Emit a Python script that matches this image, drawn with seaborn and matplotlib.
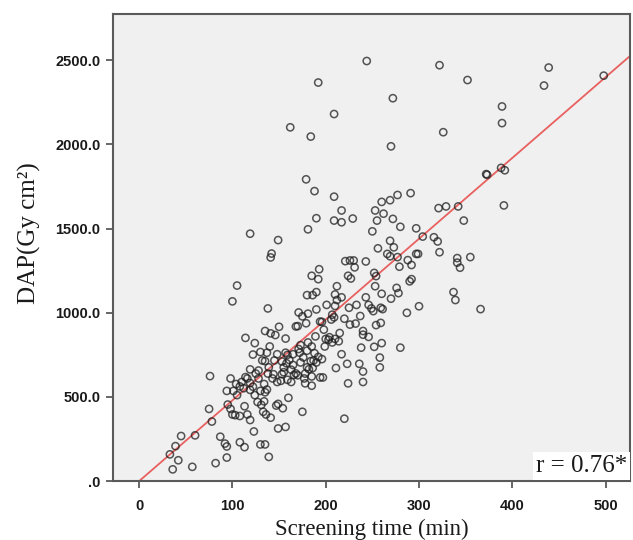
import matplotlib
matplotlib.use("Agg")
import matplotlib.pyplot as plt
import numpy as np
import pandas as pd
import seaborn as sns

# Screening time (min) and dose-area product (Gy cm^2) per procedure
screening_time = [
    244, 322, 439, 192, 352, 434, 498, 272, 209, 389, 389, 162, 326, 184, 270,
    372, 373, 388, 392, 179, 188, 209, 291, 277, 269, 260, 391, 321, 329, 342,
    217, 253, 262, 190, 229, 209, 217, 255, 272, 348, 181, 280, 297, 250, 119,
    304, 316, 320, 149, 269, 256, 273, 142, 141, 322, 297, 299, 266, 269, 277,
    341, 355, 341, 344, 221, 226, 230, 243, 231, 288, 292, 279, 193, 252, 254,
    224, 227, 185, 192, 292, 290, 105, 212, 253, 276, 278, 180, 186, 190, 210,
    217, 243, 260, 337, 100, 212, 339, 270, 138, 190, 201, 210, 225, 233, 246,
    249, 300, 366, 251, 259, 261, 287, 171, 175, 181, 207, 209, 220, 237, 232,
    226, 259, 254, 179, 168, 170, 194, 196, 206, 150, 135, 141, 146, 240, 240,
    246, 114, 157, 204, 200, 210, 214, 181, 173, 185, 124, 140, 207, 238, 260,
    252, 280, 122, 130, 137, 148, 157, 159, 165, 172, 180, 192, 217, 258, 132,
    135, 145, 153, 173, 184, 187, 190, 223, 236, 119, 128, 139, 155, 163, 180,
    186, 211, 258, 76, 98, 114, 125, 138, 144, 153, 155, 166, 170, 178, 185,
    194, 197, 240, 240, 224, 110, 116, 119, 128, 148, 152, 159, 163, 177, 178,
    185, 104, 108, 122, 134, 101, 94, 130, 135, 137, 124, 105, 160, 112, 119,
    127, 134, 131, 95, 113, 149, 147, 154, 75, 98, 100, 103, 116, 119, 133,
    136, 141, 108, 78, 175, 220, 123, 149, 157, 45, 60, 87, 92, 94, 108,
    113, 130, 135, 39, 33, 42, 94, 139, 82, 57, 36,
    165, 176, 188, 199, 203, 215, 168, 182, 196, 158, 171, 189, 143, 161, 198,
]
dap = [
    2496, 2471, 2457, 2368, 2383, 2350, 2409, 2275, 2181, 2226, 2127, 2102, 2073, 2047, 1989,
    1824, 1820, 1861, 1847, 1793, 1723, 1690, 1711, 1700, 1669, 1659, 1638, 1622, 1632, 1632,
    1608, 1608, 1589, 1562, 1560, 1548, 1538, 1548, 1558, 1548, 1496, 1511, 1502, 1484, 1470,
    1453, 1449, 1424, 1432, 1428, 1383, 1389, 1352, 1329, 1360, 1350, 1350, 1350, 1336, 1331,
    1325, 1331, 1298, 1268, 1307, 1311, 1311, 1305, 1270, 1313, 1284, 1274, 1259, 1237, 1218,
    1220, 1204, 1220, 1200, 1200, 1187, 1162, 1158, 1158, 1148, 1117, 1105, 1105, 1123, 1109,
    1092, 1092, 1113, 1123, 1068, 1076, 1076, 1084, 1026, 1020, 1047, 1041, 1030, 1047, 1047,
    1026, 1039, 1022, 1010, 1030, 1022, 1000, 1002, 979, 995, 989, 973, 965, 981, 936,
    930, 940, 927, 938, 919, 921, 948, 946, 960, 917, 892, 878, 868, 892, 870,
    857, 851, 847, 855, 845, 845, 831, 824, 808, 800, 820, 800, 824, 793, 820,
    798, 793, 752, 767, 763, 754, 763, 750, 754, 763, 775, 738, 754, 734, 717,
    713, 717, 711, 705, 713, 717, 705, 697, 697, 664, 657, 676, 676, 662, 676,
    672, 672, 676, 624, 610, 618, 639, 639, 635, 635, 647, 631, 629, 639, 622,
    616, 616, 651, 589, 581, 589, 610, 583, 610, 589, 596, 602, 589, 610, 581,
    567, 577, 563, 561, 577, 536, 536, 536, 528, 544, 511, 511, 495, 552, 542,
    470, 474, 453, 455, 445, 459, 449, 433, 429, 429, 396, 392, 396, 363, 412,
    396, 377, 387, 354, 412, 371, 295, 313, 322, 268, 272, 264, 223, 206, 231,
    202, 218, 218, 208, 159, 124, 140, 144, 107, 85, 70,
    690, 735, 760, 800, 840, 880, 640, 665, 725, 700, 785, 860, 610, 720, 900,
]

# Fitted regression line (DAP = intercept + slope * time)
fit_intercept = 0.0
fit_slope = 4.8
correlation_text = "r = 0.76*"

x_ticks = [0, 100, 200, 300, 400, 500]
y_ticks = [0, 500, 1000, 1500, 2000, 2500]
y_tick_labels = [".0", "500.0", "1000.0", "1500.0", "2000.0", "2500.0"]

df = pd.DataFrame({"time": screening_time, "dap": dap})

sns.set_style("ticks")
plt.rcParams["font.family"] = ["Liberation Sans", "DejaVu Sans"]

fig = plt.figure(figsize=(6.33, 5.40), dpi=100)
ax = fig.add_axes([0.1785, 0.109, 0.8165, 0.865])
ax.set_facecolor("#f0f0f0")

sns.scatterplot(
    data=df, x="time", y="dap", ax=ax,
    marker="o", s=27, facecolors="none", edgecolor="#1e1e1e",
    linewidth=1.1, alpha=0.75, zorder=3,
)

ax.axline((0, fit_intercept), slope=fit_slope, color="#e8605f", lw=1.3, zorder=2)

ax.set_xlim(-28, 526)
ax.set_ylim(0, 2775)
ax.set_xticks(x_ticks)
ax.set_xticklabels([str(v) for v in x_ticks])
ax.set_yticks(y_ticks)
ax.set_yticklabels(y_tick_labels)

for side in ["left", "right", "top", "bottom"]:
    ax.spines[side].set_visible(True)
    ax.spines[side].set_color("#5a5a5a")
    ax.spines[side].set_linewidth(1.5)

ax.tick_params(axis="both", direction="out", length=5, width=1.3, color="#5a5a5a",
               labelsize=10.5, labelcolor="#1a1a1a")
ax.tick_params(axis="x", pad=8)
ax.tick_params(axis="y", pad=4)
for lab in ax.get_xticklabels() + ax.get_yticklabels():
    lab.set_fontweight("bold")

serif = ["Liberation Serif", "DejaVu Serif"]
ax.set_xlabel("Screening time (min)", family=serif, fontsize=16.5, labelpad=4, color="#1a1a1a")
ax.set_ylabel("DAP(Gy cm²)", family=serif, fontsize=18, color="#1a1a1a")
ax.yaxis.set_label_coords(-0.139, 0.53)

ax.text(0.995, 0.008, correlation_text, transform=ax.transAxes, ha="right", va="bottom",
        family=serif, fontsize=18, color="#1a1a1a", zorder=5,
        bbox=dict(boxstyle="square,pad=0.12", fc="white", ec="none"))

fig.savefig("out.png", dpi=100)
